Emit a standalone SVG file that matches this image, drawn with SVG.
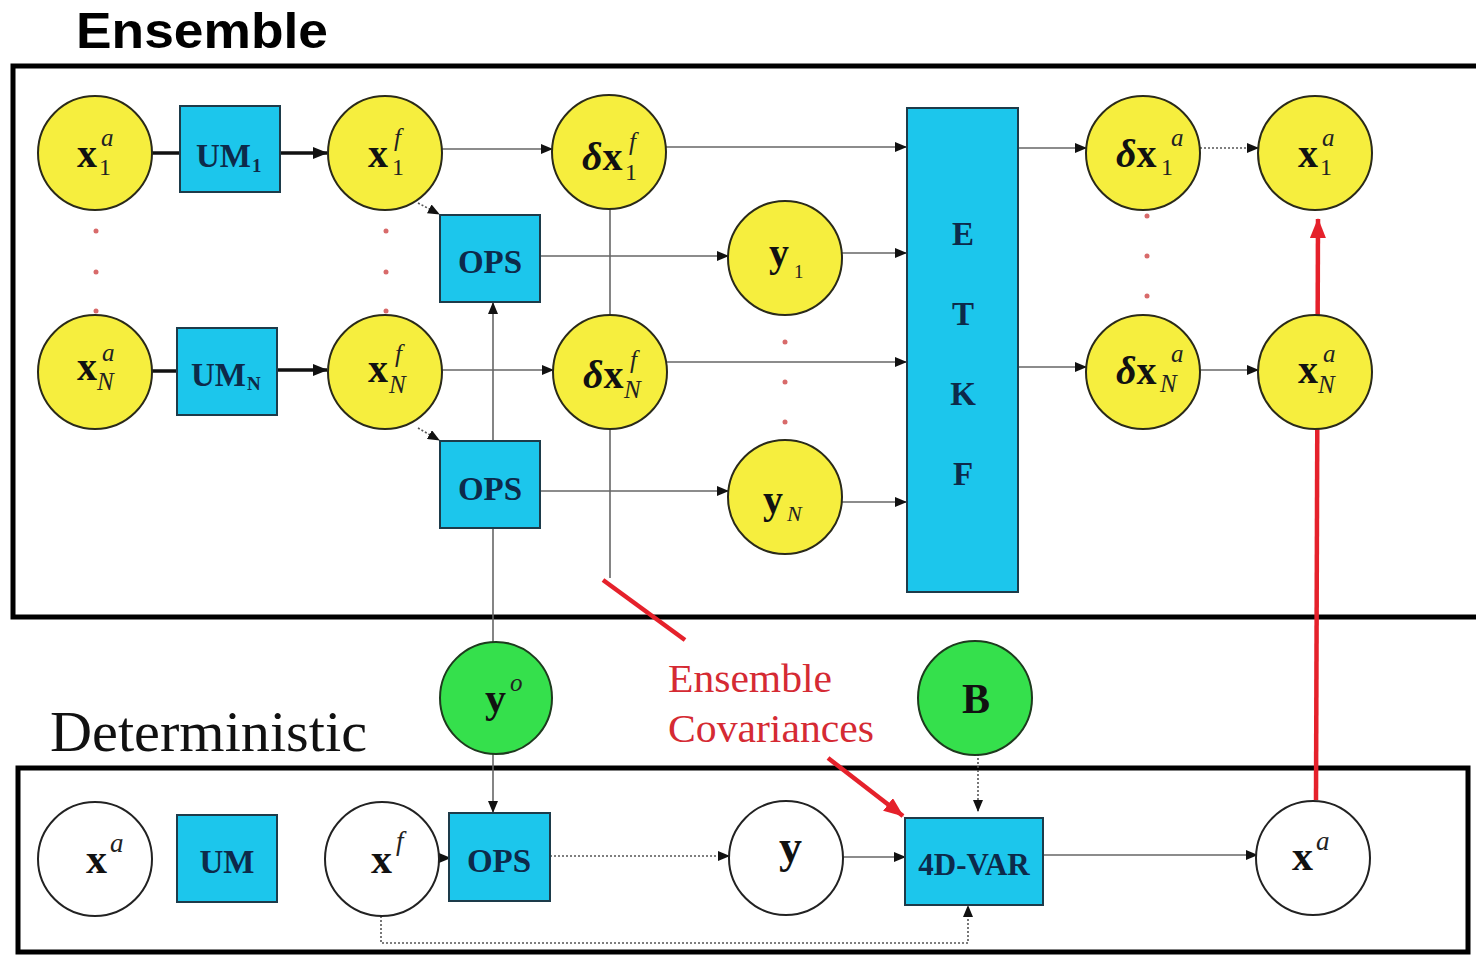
<svg xmlns="http://www.w3.org/2000/svg" width="1476" height="955" viewBox="0 0 1476 955">
<defs>
<style>
.frame{fill:none;stroke:#000;stroke-width:5}
.yc{fill:#f6ee3e;stroke:#2a2a1a;stroke-width:2}
.gc{fill:#35e04c;stroke:#1e3a1e;stroke-width:2}
.wc{fill:#fff;stroke:#222;stroke-width:2}
.bx{fill:#1cc6ec;stroke:#1d3b4a;stroke-width:2}
.ln{fill:none;stroke:#666;stroke-width:1.6}
.dt{fill:none;stroke:#555;stroke-width:1.6;stroke-dasharray:2 2}
.tk{fill:none;stroke:#111;stroke-width:3.5}
.rd{fill:none;stroke:#e5212b;stroke-width:4.5}
.dot{fill:#d86a6a}
.v{font-family:"Liberation Serif",serif;font-weight:bold;font-size:40px;fill:#111}
.d{font-style:italic}
.sp{font-family:"Liberation Serif",serif;font-style:italic;font-size:25px;fill:#222}
.sb{font-family:"Liberation Serif",serif;font-size:24px;fill:#222}
.sn{font-family:"Liberation Serif",serif;font-style:italic;font-size:25px;fill:#222}
.bt{font-family:"Liberation Serif",serif;font-weight:bold;font-size:33px;fill:#0d2a4a}
.bs{font-family:"Liberation Serif",serif;font-weight:bold;font-size:19px;fill:#0d2a4a}
.title{font-family:"Liberation Sans",Arial,sans-serif;font-weight:bold;font-size:50px;fill:#000}
.det{font-family:"Liberation Serif",serif;font-size:57px;fill:#111}
.red{font-family:"Liberation Serif",serif;font-size:41px;fill:#d52a33}
</style>
<marker id="ah" markerUnits="userSpaceOnUse" markerWidth="12" markerHeight="10" refX="11" refY="5" orient="auto"><path d="M0,0 L12,5 L0,10 z" fill="#111"/></marker>
<marker id="ahb" markerUnits="userSpaceOnUse" markerWidth="15" markerHeight="12" refX="14" refY="6" orient="auto"><path d="M0,0 L15,6 L0,12 z" fill="#111"/></marker>
<marker id="ahr" markerUnits="userSpaceOnUse" markerWidth="20" markerHeight="16" refX="19" refY="8" orient="auto"><path d="M0,0 L20,8 L0,16 z" fill="#e5212b"/></marker>
</defs>
<rect width="1476" height="955" fill="#fff"/>

<text class="title" x="76" y="48" textLength="252" lengthAdjust="spacingAndGlyphs">Ensemble</text>
<text class="det" x="50" y="751" textLength="317" lengthAdjust="spacingAndGlyphs">Deterministic</text>
<text class="red" x="668" y="692" textLength="164" lengthAdjust="spacingAndGlyphs">Ensemble</text>
<text class="red" x="668" y="742" textLength="206" lengthAdjust="spacingAndGlyphs">Covariances</text>

<g id="frames">
<rect class="frame" x="13" y="66" width="1480" height="551"/>
<rect class="frame" x="18" y="768" width="1450" height="184"/>
</g>

<g id="connectors">
<line class="tk" x1="152" y1="153" x2="180" y2="153"/>
<line class="tk" x1="280" y1="153" x2="327" y2="153" marker-end="url(#ahb)"/>
<line class="tk" x1="152" y1="371" x2="177" y2="371"/>
<line class="tk" x1="277" y1="370" x2="327" y2="370" marker-end="url(#ahb)"/>
<line class="ln" x1="441" y1="149" x2="552" y2="149" marker-end="url(#ah)"/>
<line class="ln" x1="666" y1="147" x2="906" y2="147" marker-end="url(#ah)"/>
<line class="dt" x1="418" y1="203" x2="439" y2="214" marker-end="url(#ah)"/>
<line class="dt" x1="418" y1="428" x2="439" y2="440" marker-end="url(#ah)"/>
<line class="ln" x1="540" y1="256" x2="728" y2="256" marker-end="url(#ah)"/>
<line class="ln" x1="842" y1="253" x2="906" y2="253" marker-end="url(#ah)"/>
<line class="ln" x1="610" y1="208" x2="610" y2="316"/>
<line class="ln" x1="610" y1="428" x2="610" y2="578"/>
<line class="ln" x1="441" y1="370" x2="553" y2="370" marker-end="url(#ah)"/>
<line class="ln" x1="667" y1="362" x2="906" y2="362" marker-end="url(#ah)"/>
<line class="ln" x1="540" y1="491" x2="728" y2="491" marker-end="url(#ah)"/>
<line class="ln" x1="842" y1="502" x2="906" y2="502" marker-end="url(#ah)"/>
<line class="ln" x1="1018" y1="148" x2="1086" y2="148" marker-end="url(#ah)"/>
<line class="dt" x1="1200" y1="148" x2="1258" y2="148" marker-end="url(#ah)"/>
<line class="ln" x1="1018" y1="367" x2="1086" y2="367" marker-end="url(#ah)"/>
<line class="ln" x1="1200" y1="370" x2="1258" y2="370" marker-end="url(#ah)"/>
<line class="ln" x1="493" y1="690" x2="493" y2="303" marker-end="url(#ah)"/>
<line class="ln" x1="493" y1="754" x2="493" y2="812" marker-end="url(#ah)"/>
<line class="ln" x1="437" y1="858" x2="450" y2="858" marker-end="url(#ah)"/>
<line class="dt" x1="550" y1="856" x2="729" y2="856" marker-end="url(#ah)"/>
<line class="ln" x1="843" y1="857" x2="905" y2="857" marker-end="url(#ah)"/>
<line class="ln" x1="1043" y1="855" x2="1257" y2="855" marker-end="url(#ah)"/>
<line class="dt" x1="978" y1="754" x2="978" y2="811" marker-end="url(#ah)"/>
<path class="dt" d="M381,916 V943 H968 V906" marker-end="url(#ah)"/>
<line class="rd" x1="603" y1="580" x2="685" y2="640"/>
<line class="rd" x1="828" y1="758" x2="903" y2="816" marker-end="url(#ahr)"/>
<line class="rd" x1="1316" y1="800" x2="1318" y2="219" marker-end="url(#ahr)"/>
</g>

<g id="dots">
<circle class="dot" cx="96" cy="231" r="2.5"/><circle class="dot" cx="96" cy="272" r="2.5"/><circle class="dot" cx="96" cy="311" r="2.5"/>
<circle class="dot" cx="386" cy="231" r="2.5"/><circle class="dot" cx="386" cy="272" r="2.5"/><circle class="dot" cx="386" cy="311" r="2.5"/>
<circle class="dot" cx="785" cy="342" r="2.5"/><circle class="dot" cx="785" cy="382" r="2.5"/><circle class="dot" cx="785" cy="422" r="2.5"/>
<circle class="dot" cx="1147" cy="216" r="2.5"/><circle class="dot" cx="1147" cy="256" r="2.5"/><circle class="dot" cx="1147" cy="296" r="2.5"/>
</g>

<g id="n-x1a"><circle class="yc" cx="95" cy="153" r="57"/><text class="v" x="77" y="167">x</text><text class="sp" x="101" y="146">a</text><text class="sb" x="99" y="175">1</text></g>
<g id="n-um1"><rect class="bx" x="180" y="106" width="100" height="86"/><text class="bt" x="196" y="167">UM</text><text class="bs" x="252" y="172">1</text></g>
<g id="n-x1f"><circle class="yc" cx="385" cy="153" r="57"/><text class="v" x="368" y="167">x</text><text class="sp" x="394" y="146">f</text><text class="sb" x="392" y="175">1</text></g>
<g id="n-dx1f"><circle class="yc" cx="609" cy="152" r="57"/><text class="v" x="582" y="170"><tspan class="d">δ</tspan>x</text><text class="sp" x="629" y="150">f</text><text class="sb" x="625" y="180">1</text></g>
<g id="n-xNa"><circle class="yc" cx="95" cy="372" r="57"/><text class="v" x="77" y="380">x</text><text class="sp" x="102" y="361">a</text><text class="sn" x="97" y="390">N</text></g>
<g id="n-umN"><rect class="bx" x="177" y="328" width="100" height="87"/><text class="bt" x="191" y="386">UM</text><text class="bs" x="247" y="390">N</text></g>
<g id="n-xNf"><circle class="yc" cx="385" cy="372" r="57"/><text class="v" x="368" y="382">x</text><text class="sp" x="395" y="362">f</text><text class="sn" x="389" y="393">N</text></g>
<g id="n-dxNf"><circle class="yc" cx="610" cy="372" r="57"/><text class="v" x="583" y="388"><tspan class="d">δ</tspan>x</text><text class="sp" x="630" y="368">f</text><text class="sn" x="624" y="398">N</text></g>
<g id="n-ops1"><rect class="bx" x="440" y="215" width="100" height="87"/><text class="bt" x="490" y="273" text-anchor="middle">OPS</text></g>
<g id="n-ops2"><rect class="bx" x="440" y="441" width="100" height="87"/><text class="bt" x="490" y="500" text-anchor="middle">OPS</text></g>
<g id="n-y1"><circle class="yc" cx="785" cy="258" r="57"/><text class="v" x="769" y="266">y</text><text class="sb" x="794" y="278" style="font-size:19px">1</text></g>
<g id="n-yN"><circle class="yc" cx="785" cy="497" r="57"/><text class="v" x="763" y="513">y</text><text class="sn" x="787" y="521" style="font-size:22px">N</text></g>
<g id="n-etkf"><rect class="bx" x="907" y="108" width="111" height="484"/>
<text class="bt" x="963" y="245" text-anchor="middle">E</text>
<text class="bt" x="963" y="325" text-anchor="middle">T</text>
<text class="bt" x="963" y="405" text-anchor="middle">K</text>
<text class="bt" x="963" y="485" text-anchor="middle">F</text></g>
<g id="n-dx1a"><circle class="yc" cx="1143" cy="153" r="57"/><text class="v" x="1116" y="167"><tspan class="d">δ</tspan>x</text><text class="sp" x="1171" y="146">a</text><text class="sb" x="1161" y="175">1</text></g>
<g id="n-dxNa"><circle class="yc" cx="1143" cy="372" r="57"/><text class="v" x="1116" y="384"><tspan class="d">δ</tspan>x</text><text class="sp" x="1171" y="362">a</text><text class="sn" x="1160" y="392">N</text></g>
<g id="n-x1a-out"><circle class="yc" cx="1315" cy="153" r="57"/><text class="v" x="1298" y="167">x</text><text class="sp" x="1322" y="146">a</text><text class="sb" x="1320" y="175">1</text></g>
<g id="n-xNa-out"><circle class="yc" cx="1315" cy="372" r="57"/><text class="v" x="1298" y="383">x</text><text class="sp" x="1323" y="362">a</text><text class="sn" x="1318" y="393">N</text></g>

<g id="n-yo"><circle class="gc" cx="496" cy="698" r="56"/><text class="v" x="485" y="712" style="font-size:42px">y</text><text class="sp" x="510" y="691">o</text></g>
<g id="n-B"><circle class="gc" cx="975" cy="698" r="57"/><text class="v" x="976" y="713" text-anchor="middle" style="font-size:42px">B</text></g>

<g id="n-xa"><circle class="wc" cx="95" cy="859" r="57"/><text class="v" x="86" y="873" style="font-size:42px">x</text><text class="sp" x="110" y="852" style="font-size:27px">a</text></g>
<g id="n-um"><rect class="bx" x="177" y="815" width="100" height="87"/><text class="bt" x="227" y="873" text-anchor="middle">UM</text></g>
<g id="n-xf"><circle class="wc" cx="382" cy="859" r="57"/><text class="v" x="371" y="873" style="font-size:42px">x</text><text class="sp" x="396" y="850" style="font-size:27px">f</text></g>
<g id="n-ops"><rect class="bx" x="449" y="813" width="101" height="88"/><text class="bt" x="499" y="872" text-anchor="middle">OPS</text></g>
<g id="n-y"><circle class="wc" cx="786" cy="858" r="57"/><text class="v" x="779" y="862" style="font-size:46px">y</text></g>
<g id="n-4dvar"><rect class="bx" x="905" y="818" width="138" height="87"/><text class="bt" x="974" y="875" text-anchor="middle" style="font-size:31px">4D-VAR</text></g>
<g id="n-xa-out"><circle class="wc" cx="1313" cy="858" r="57"/><text class="v" x="1292" y="870" style="font-size:42px">x</text><text class="sp" x="1316" y="850" style="font-size:27px">a</text></g>
</svg>
